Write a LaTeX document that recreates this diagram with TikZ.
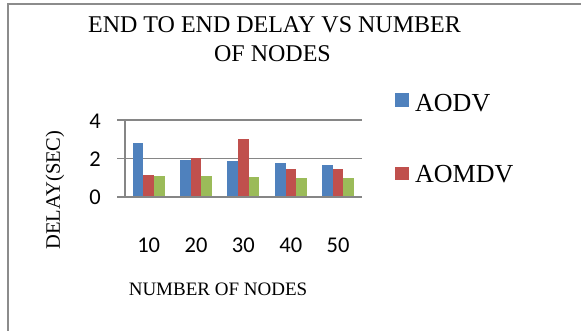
\documentclass[tikz,border=0pt]{standalone}
\usepackage{fontspec}
\setmainfont{Liberation Serif}
\newfontfamily\calib{Carlito}
\definecolor{sblue}{HTML}{4F81BD}
\definecolor{sred}{HTML}{C0504D}
\definecolor{sgreen}{HTML}{9BBB59}
\definecolor{gridgray}{HTML}{868686}
\definecolor{framegray}{HTML}{8C8C8C}
\tikzset{
  ticklab/.style={font=\calib\fontsize{22.5}{22.5}\selectfont, inner sep=0pt},
  serlab/.style={font=\fontsize{#1}{#1}\selectfont, inner sep=0pt},
  gridln/.style={draw=gridgray, line width=1.5pt},
}
\begin{document}
\begin{tikzpicture}[x=1pt,y=-1pt]
\useasboundingbox (0,0) rectangle (581,331);
% frame
\draw[framegray, line width=2pt] (8,340) -- (8,4) -- (590,4);
% title
\node[serlab=24, anchor=base] (t1) at (274.5,33) {END TO END DELAY VS NUMBER};
\node[serlab=24, anchor=base] (t2) at (272.5,62) {OF NODES};
% grid
\draw[gridln] (117,120) -- (362,120);
\draw[gridln] (117,158.3) -- (362,158.3);
% bars
\def\yz{196.7}
\def\u{19.2}
\foreach \c/\b/\r/\g in {148.7/2.81/1.13/1.09, 196.1/1.91/2.0/1.08, 243.4/1.88/2.99/1.01, 290.8/1.76/1.43/0.99, 338.1/1.65/1.44/0.97}{
  \fill[sblue] (\c-16,\yz) rectangle (\c-5.3,\yz-\b*\u);
  \fill[sred] (\c-5.3,\yz) rectangle (\c+5.3,\yz-\r*\u);
  \fill[sgreen] (\c+5.3,\yz) rectangle (\c+16,\yz-\g*\u);
}
% axes
\draw[gridln] (125,120) -- (125,196.7);
\draw[draw=gridgray, line width=2pt] (117,196.7) -- (362,196.7);
% tick labels
\node[ticklab, anchor=east] (y4) at (101,121) {4};
\node[ticklab, anchor=east] (y2) at (101,159) {2};
\node[ticklab, anchor=east] (y0) at (101,197.5) {0};
\node[ticklab, anchor=base] (x10) at (148.7,252) {10};
\node[ticklab, anchor=base] (x20) at (196.1,252) {20};
\node[ticklab, anchor=base] (x30) at (243.4,252) {30};
\node[ticklab, anchor=base] (x40) at (290.8,252) {40};
\node[ticklab, anchor=base] (x50) at (338.1,252) {50};
% axis titles
\node[serlab=20.5, rotate=90] (ylab) at (55,190) {DELAY(SEC)};
\node[serlab=19, anchor=base] (xlab) at (218,295) {NUMBER OF NODES};
% legend
\fill[sblue] (395,93) rectangle (409,107);
\node[serlab=26, anchor=base west] (l1) at (415,112) {AODV};
\fill[sred] (395,167) rectangle (409,180);
\node[serlab=26, anchor=base west] (l2) at (415,183) {AOMDV};
\end{tikzpicture}
\end{document}
